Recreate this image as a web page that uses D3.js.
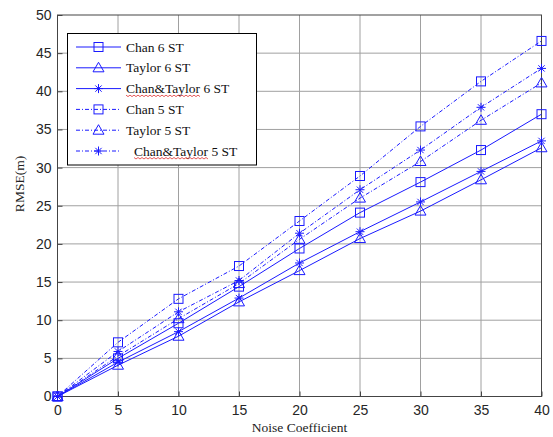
<!DOCTYPE html>
<html>
<head>
<meta charset="utf-8">
<script src="https://cdn.jsdelivr.net/npm/d3@7"></script>
<style>
  body { margin: 0; background: #fff; }
  svg { display: block; }
</style>
</head>
<body>
<svg id="chart" width="553" height="437"></svg>
<script>
// データ
const noise = [0, 5, 10, 15, 20, 25, 30, 35, 40];
const chan6 = [0, 5.0, 9.6, 14.4, 19.4, 24.1, 28.1, 32.3, 37.0];
const taylor6 = [0, 4.1, 7.9, 12.4, 16.5, 20.7, 24.3, 28.4, 32.6];
const chanTaylor6 = [0, 4.5, 8.5, 12.9, 17.5, 21.6, 25.5, 29.5, 33.5];
const chan5 = [0, 7.1, 12.8, 17.1, 23.0, 28.9, 35.4, 41.3, 46.6];
const taylor5 = [0, 5.3, 10.2, 14.8, 20.6, 26.0, 30.8, 36.2, 41.1];
const chanTaylor5 = [0, 5.9, 11.1, 15.2, 21.4, 27.1, 32.3, 37.9, 43.0];
const seriesNames = ["Chan 6 ST", "Taylor 6 ST", "Chan&Taylor 6 ST", "Chan 5 ST", "Taylor 5 ST", "Chan&Taylor 5 ST"];
const xTicks = [0, 5, 10, 15, 20, 25, 30, 35, 40];
const yTicks = [0, 5, 10, 15, 20, 25, 30, 35, 40, 45, 50];

const series = [
  { name: seriesNames[0], values: chan6, marker: "square", dash: null },
  { name: seriesNames[1], values: taylor6, marker: "triangle", dash: null },
  { name: seriesNames[2], values: chanTaylor6, marker: "star", dash: null },
  { name: seriesNames[3], values: chan5, marker: "square", dash: "4,2,1,2" },
  { name: seriesNames[4], values: taylor5, marker: "triangle", dash: "4,2,1,2" },
  { name: seriesNames[5], values: chanTaylor5, marker: "star", dash: "4,2,1,2" },
];

const blue = "#1a1aff";
const svg = d3.select("#chart");
const plot = { left: 57.5, right: 541.5, top: 15, bottom: 396.5 };

const x = d3.scaleLinear().domain([0, 40]).range([plot.left, plot.right]);
const y = d3.scaleLinear().domain([0, 50]).range([plot.bottom, plot.top]);

// グリッド
const grid = svg.append("g");
grid.selectAll("line.gx").data(xTicks.slice(1, -1)).join("line")
  .attr("x1", (d) => x(d)).attr("x2", (d) => x(d))
  .attr("y1", plot.top).attr("y2", plot.bottom)
  .attr("stroke", "#a0a0a0").attr("stroke-width", 1);
grid.selectAll("line.gy").data(yTicks.slice(1, -1)).join("line")
  .attr("x1", plot.left).attr("x2", plot.right)
  .attr("y1", (d) => y(d)).attr("y2", (d) => y(d))
  .attr("stroke", "#a0a0a0").attr("stroke-width", 1);

// 軸
const xAxis = svg.append("g")
  .attr("transform", `translate(0,${plot.bottom})`)
  .call(d3.axisBottom(x).tickValues(xTicks).tickSizeInner(-5).tickSizeOuter(0).tickPadding(9));
const yAxis = svg.append("g")
  .attr("transform", `translate(${plot.left},0)`)
  .call(d3.axisLeft(y).tickValues(yTicks).tickSizeInner(-5).tickSizeOuter(0).tickPadding(6));
[xAxis, yAxis].forEach((ax) => {
  ax.select(".domain").remove();
  ax.selectAll("line").attr("stroke", "#444");
  ax.selectAll("text")
    .attr("fill", "#262626")
    .style("font-family", "'Liberation Sans', Arial, sans-serif")
    .style("font-size", "14px");
});

svg.append("rect")
  .attr("x", plot.left).attr("y", plot.top)
  .attr("width", plot.right - plot.left).attr("height", plot.bottom - plot.top)
  .attr("fill", "none").attr("stroke", "#444").attr("stroke-width", 1);

// 軸ラベル
svg.append("text")
  .attr("x", (plot.left + plot.right) / 2).attr("y", 432)
  .attr("text-anchor", "middle")
  .style("font-family", "'Liberation Serif', 'Times New Roman', serif")
  .style("font-size", "13.5px").attr("fill", "#222")
  .text("Noise Coefficient");
svg.append("text")
  .attr("transform", "translate(24,184) rotate(-90)")
  .attr("text-anchor", "middle")
  .style("font-family", "'Liberation Serif', 'Times New Roman', serif")
  .style("font-size", "13.5px").attr("fill", "#222")
  .text("RMSE(m)");

// マーカー
function drawMarker(g, type, cx, cy) {
  if (type === "square") {
    g.append("rect").attr("x", cx - 4.5).attr("y", cy - 4.5)
      .attr("width", 9).attr("height", 9)
      .attr("fill", "none").attr("stroke", blue);
  } else if (type === "triangle") {
    g.append("path")
      .attr("d", `M${cx},${cy - 5.5}L${cx + 5.5},${cy + 4}L${cx - 5.5},${cy + 4}Z`)
      .attr("fill", "none").attr("stroke", blue);
  } else {
    const r = 4.5;
    const d = r * 0.7;
    g.append("path")
      .attr("d", `M${cx - r},${cy}H${cx + r}M${cx},${cy - r}V${cy + r}M${cx - d},${cy - d}L${cx + d},${cy + d}M${cx - d},${cy + d}L${cx + d},${cy - d}`)
      .attr("fill", "none").attr("stroke", blue);
  }
}

const line = d3.line().x((d, i) => x(noise[i])).y((d) => y(d));
series.forEach((s) => {
  const g = svg.append("g");
  g.append("path")
    .attr("d", line(s.values))
    .attr("fill", "none").attr("stroke", blue).attr("stroke-width", 1)
    .attr("stroke-dasharray", s.dash);
  s.values.forEach((v, i) => drawMarker(g, s.marker, x(noise[i]), y(v)));
});

// 凡例
const legend = svg.append("g");
legend.append("rect")
  .attr("x", 67.5).attr("y", 33.5).attr("width", 189).attr("height", 131.5)
  .attr("fill", "#fff").attr("stroke", "#000").attr("stroke-width", 1);
series.forEach((s, i) => {
  const ly = 47 + i * 20.8;
  const g = legend.append("g");
  g.append("line").attr("x1", 76).attr("x2", 121).attr("y1", ly).attr("y2", ly)
    .attr("stroke", blue).attr("stroke-dasharray", s.dash);
  drawMarker(g, s.marker, 98.5, ly);
  const tx = i === 5 ? 134 : 126;
  const t = g.append("text")
    .attr("x", tx).attr("y", ly + 4.5)
    .style("font-family", "'Liberation Serif', 'Times New Roman', serif")
    .style("font-size", "13.5px").attr("fill", "#111")
    .text(s.name);
  // スペルチェックの波線
  if (s.name.startsWith("Chan&Taylor")) {
    const w = t.node().getSubStringLength(0, 11);
    const pts = d3.range(0, w, 2).map((dx, k) => [tx + dx, ly + 7 + (k % 2 ? 1 : -0.5)]);
    g.append("path").attr("d", d3.line()(pts))
      .attr("fill", "none").attr("stroke", "#e03030").attr("stroke-width", 0.8);
  }
});
</script>
</body>
</html>
